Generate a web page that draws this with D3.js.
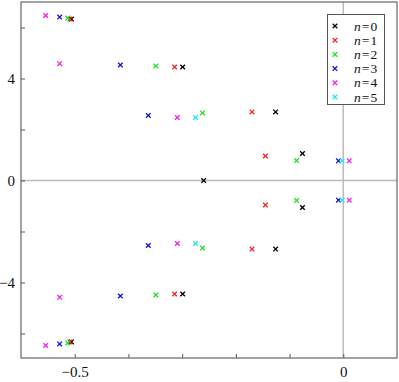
<!DOCTYPE html>
<html>
<head>
<meta charset="utf-8">
<script src="https://cdn.jsdelivr.net/npm/d3@7"></script>
<style>
    body { margin: 0; background: #fff; }
    svg { display: block; }
    text { font-family: "Liberation Serif", "DejaVu Serif", serif; }
</style>
</head>
<body>
<svg width="399" height="382"></svg>
<script>
// series labels and colours
const seriesNames = ["0", "1", "2", "3", "4", "5"];
const seriesColors = ["#000000", "#ff2020", "#20e020", "#1010e0", "#f020f0", "#20e8f0"];

const re0 = [-0.506, -0.299, -0.126, -0.076, -0.260, -0.076, -0.126, -0.299, -0.506];
const im0 = [6.33, 4.45, 2.69, 1.06, 0, -1.06, -2.69, -4.45, -6.33];
const re1 = [-0.509, -0.314, -0.170, -0.145, -0.145, -0.170, -0.314, -0.509];
const im1 = [6.33, 4.45, 2.69, 0.96, -0.96, -2.69, -4.45, -6.33];
const re2 = [-0.513, -0.349, -0.262, -0.087, -0.087, -0.262, -0.349, -0.513];
const im2 = [6.37, 4.49, 2.65, 0.78, -0.78, -2.65, -4.49, -6.37];
const re3 = [-0.528, -0.415, -0.363, -0.009, -0.009, -0.363, -0.415, -0.528];
const im3 = [6.41, 4.53, 2.55, 0.77, -0.77, -2.55, -4.53, -6.41];
const re4 = [-0.554, -0.528, -0.309, 0.011, 0.011, -0.309, -0.528, -0.554];
const im4 = [6.47, 4.58, 2.47, 0.77, -0.77, -2.47, -4.58, -6.47];
const re5 = [-0.275, -0.002, -0.002, -0.275];
const im5 = [2.47, 0.77, -0.77, -2.47];

const xTicks = [-0.5, -0.4, -0.3, -0.2, -0.1, 0];
const xTickLabels = ["\u22120.5", "", "", "", "", "0"];
const yTicks = [-6, -4, -2, 0, 2, 4, 6];
const yTickLabels = ["", "\u22124", "", "0", "", "4", ""];

const allRe = [re0, re1, re2, re3, re4, re5];
const allIm = [im0, im1, im2, im3, im4, im5];

const svg = d3.select("svg");
const plotL = 21, plotR = 397, plotT = 2, plotB = 358;

const x = d3.scaleLinear().domain([-0.6, 0.1]).range([plotL, plotR]);
const y = d3.scaleLinear().domain([-7, 7]).range([359, 2]);

// zero lines
svg.append("line")
    .attr("x1", x(0)).attr("x2", x(0))
    .attr("y1", plotT).attr("y2", plotB)
    .attr("stroke", "#bbbbbb").attr("stroke-width", 1.5);
svg.append("line")
    .attr("x1", plotL).attr("x2", plotR)
    .attr("y1", y(0)).attr("y2", y(0))
    .attr("stroke", "#bbbbbb").attr("stroke-width", 1.5);

// axes with inward ticks
const xAxis = d3.axisBottom(x).tickValues(xTicks).tickSize(-4).tickPadding(8)
    .tickFormat((d, i) => xTickLabels[i]);
const gx = svg.append("g").attr("transform", `translate(0,${plotB})`).call(xAxis);
const yAxis = d3.axisLeft(y).tickValues(yTicks).tickSize(-4).tickPadding(6)
    .tickFormat((d, i) => yTickLabels[i]);
const gy = svg.append("g").attr("transform", `translate(${plotL},0)`).call(yAxis);

[gx, gy].forEach(g => {
    g.attr("font-family", null);
    g.select(".domain").remove();
    g.selectAll(".tick line").attr("stroke", "#555").attr("stroke-width", 1);
    g.selectAll(".tick text")
        .attr("font-size", 15)
        .attr("fill", "#111");
});
gy.selectAll(".tick text").attr("x", -6);

// frame
svg.append("rect")
    .attr("x", plotL).attr("y", plotT)
    .attr("width", plotR - plotL).attr("height", plotB - plotT)
    .attr("fill", "none").attr("stroke", "#666").attr("stroke-width", 1.2);

function drawCross(g, cx, cy, color) {
    const s = 2.3;
    g.append("path")
        .attr("d", `M${cx - s},${cy - s}L${cx + s},${cy + s}M${cx - s},${cy + s}L${cx + s},${cy - s}`)
        .attr("stroke", color)
        .attr("stroke-width", 1.3)
        .attr("fill", "none");
}

const pts = svg.append("g");
allRe.forEach((res, k) => {
    res.forEach((r, i) => {
        drawCross(pts, x(r), y(allIm[k][i]), seriesColors[k]);
    });
});

// legend
const leg = svg.append("g");
leg.append("rect")
    .attr("x", 327.5).attr("y", 14.5)
    .attr("width", 57).attr("height", 90)
    .attr("fill", "#fff").attr("stroke", "#555").attr("stroke-width", 1);

seriesNames.forEach((name, i) => {
    const ly = 26 + i * 14.2;
    drawCross(leg, 335, ly, seriesColors[i]);
    const t = leg.append("text")
        .attr("x", 354).attr("y", ly + 4.5)
        .attr("font-size", 13.5)
        .attr("fill", "#111");
    t.append("tspan").attr("font-style", "italic").text("n");
    t.append("tspan").attr("dx", 1).text("=");
    t.append("tspan").attr("dx", 1).text(name);
});
</script>
</body>
</html>
